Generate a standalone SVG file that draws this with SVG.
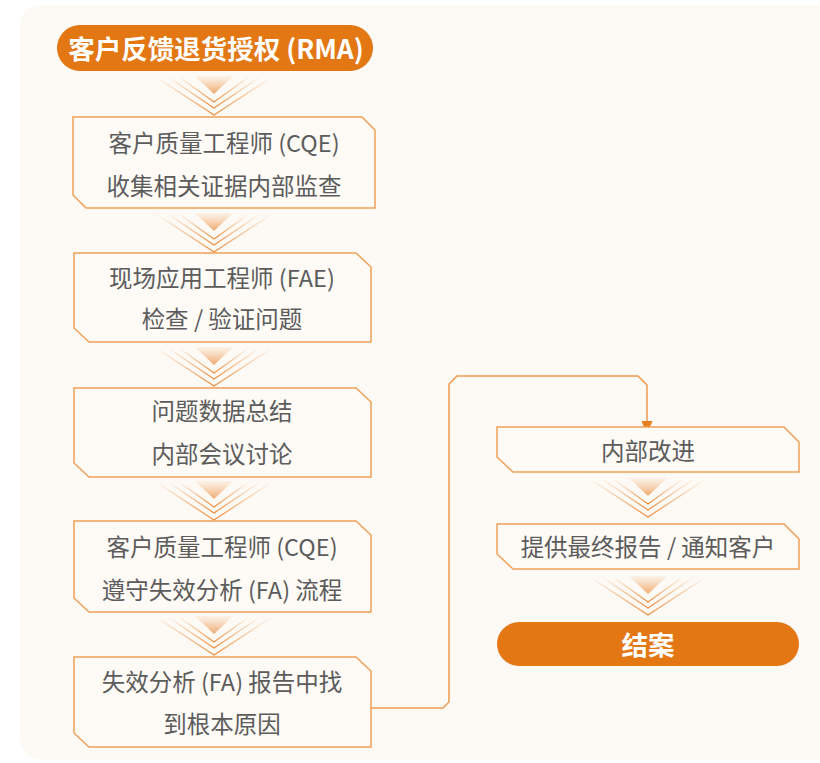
<svg xmlns="http://www.w3.org/2000/svg" width="820" height="763" viewBox="0 0 820 763">
<defs>
<style>
.box{fill:#fefaf6;stroke:#efa058;stroke-width:1.5}
.t{font-family:"Noto Sans CJK SC","Noto Sans",sans-serif;font-size:23.5px;fill:#5c5c5c;text-anchor:middle;dominant-baseline:central}
.pill{fill:#e27714}
.pt{font-family:"Noto Sans CJK SC","Noto Sans",sans-serif;font-size:26.5px;font-weight:bold;fill:#ffffff;text-anchor:middle;dominant-baseline:central}
.conn{fill:none;stroke:#ee9a4f;stroke-width:1.5}
.cv{fill:none;stroke:url(#lg);stroke-width:1.3}
</style>
<linearGradient id="lg" x1="0" y1="0" x2="1" y2="0">
<stop offset="0" stop-color="#ec8e3e" stop-opacity="0"/>
<stop offset="0.5" stop-color="#ec8e3e" stop-opacity="1"/>
<stop offset="1" stop-color="#ec8e3e" stop-opacity="0"/>
</linearGradient>
<linearGradient id="tg" x1="0" y1="0" x2="0" y2="1">
<stop offset="0" stop-color="#f3b57d" stop-opacity="0.1"/>
<stop offset="1" stop-color="#eb9a55" stop-opacity="0.85"/>
</linearGradient>
<marker id="ah" viewBox="0 0 13 11" refX="13" refY="5.5" markerWidth="13" markerHeight="11" markerUnits="userSpaceOnUse" orient="auto">
<path d="M0,0 L13,5.5 L0,11 z" fill="#e57f1f"/>
</marker>
<g id="chev">
<polygon points="-19,1 19,1 0,19" fill="url(#tg)"/>
<polyline class="cv" points="-35,2 0,27 35,2"/>
<polyline class="cv" points="-46,2 0,33 46,2"/>
<polyline class="cv" points="-58,2 0,40 58,2"/>
</g>
</defs>
<rect width="820" height="763" fill="#ffffff"/>
<rect x="20" y="5" width="830" height="755" rx="22" fill="#fdf9f4"/>

<g id="chevrons">
<use href="#chev" transform="translate(214,75)"/>
<use href="#chev" transform="translate(214,212)"/>
<use href="#chev" transform="translate(214,346)"/>
<use href="#chev" transform="translate(214,480)"/>
<use href="#chev" transform="translate(214,615)"/>
<use href="#chev" transform="translate(648,477)"/>
<use href="#chev" transform="translate(648,575)"/>
</g>

<g id="connectors">
<path class="conn" d="M370,708 L443,708 L449,702 L449,384 L457,376 L638,376 L647,385 L647,434" marker-end="url(#ah)"/>
</g>

<g id="n-start">
<rect class="pill" x="57" y="25" width="316" height="46" rx="23"/>
<text class="pt" x="216" y="47">客户反馈退货授权 (RMA)</text>
</g>

<g id="n-cqe1">
<path class="box" d="M73,117 L362,117 L375,130 L375,208 L86,208 L73,195 Z"/>
<text class="t" x="224" y="142">客户质量工程师 (CQE)</text>
<text class="t" x="224" y="185">收集相关证据内部监查</text>
</g>

<g id="n-fae">
<path class="box" d="M74,253 L356,253 L371,267 L371,342 L89,342 L74,328 Z"/>
<text class="t" x="222" y="277">现场应用工程师 (FAE)</text>
<text class="t" x="222" y="318">检查 / 验证问题</text>
</g>

<g id="n-summary">
<path class="box" d="M74,388 L356,388 L371,402 L371,477 L89,477 L74,463 Z"/>
<text class="t" x="222" y="410">问题数据总结</text>
<text class="t" x="222" y="453">内部会议讨论</text>
</g>

<g id="n-cqe2">
<path class="box" d="M74,521 L356,521 L371,535 L371,612 L89,612 L74,598 Z"/>
<text class="t" x="222" y="546">客户质量工程师 (CQE)</text>
<text class="t" x="222" y="589">遵守失效分析 (FA) 流程</text>
</g>

<g id="n-fa">
<path class="box" d="M74,657 L356,657 L371,671 L371,747 L89,747 L74,733 Z"/>
<text class="t" x="222" y="681">失效分析 (FA) 报告中找</text>
<text class="t" x="222" y="723">到根本原因</text>
</g>

<g id="n-improve">
<path class="box" d="M497,427 L784,427 L799,442 L799,472 L513,472 L497,457 Z"/>
<text class="t" x="648" y="450">内部改进</text>
</g>

<g id="n-report">
<path class="box" d="M497,524 L784,524 L799,539 L799,569 L513,569 L497,554 Z"/>
<text class="t" x="648" y="546">提供最终报告 / 通知客户</text>
</g>

<g id="n-end">
<rect class="pill" x="497" y="622" width="302" height="44" rx="22"/>
<text class="pt" x="648" y="643">结案</text>
</g>
</svg>
